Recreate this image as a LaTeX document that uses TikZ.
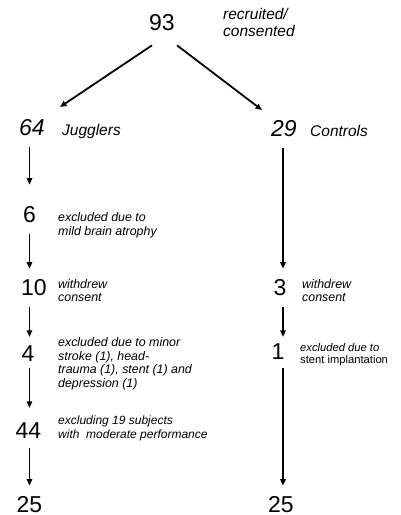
\documentclass[tikz,border=0pt]{standalone}
\usepackage{fontspec}
\setmainfont{Liberation Sans}
\usetikzlibrary{arrows.meta}

\begin{document}
\begin{tikzpicture}[x=1pt,y=-1pt,>={Triangle[length=6.5pt,width=5.5pt]},
  num/.style={inner sep=0pt,font=\fontsize{23}{23}\selectfont},
  lbl/.style={anchor=base west,inner sep=0pt,align=left,
    font=\fontsize{15.5}{17}\selectfont\itshape},
  note/.style={anchor=base west,inner sep=0pt,align=left,
    font=\fontsize{12.4}{13.6}\selectfont\itshape},
  flow/.style={->,line width=1.4pt,shorten <=11pt,shorten >=11pt}]
  \useasboundingbox (0,0) rectangle (400,515);
  % recruitment (multi-line notes sit on their last line)
  \node[num] (n93) at (162,23) {93};
  \node[lbl] (tRec) at (223,36) {recruited/\\consented};
  \coordinate (inJug) at (60,107);
  \coordinate (inCon) at (262,110);
  \draw[->,line width=1.8pt] ([shift={(-10,14)}]n93.south) -- (inJug);
  \draw[->,line width=1.8pt] ([shift={(15,14)}]n93.south) -- (inCon);
  % jugglers
  \coordinate (colJ) at (29.5,0);
  \node[num,font=\fontsize{23}{23}\selectfont\itshape] (n64) at (32,128) {64};
  \node[lbl] (tJug) at (62,135) {Jugglers};
  \node[num] (n6) at (29.5,215) {6};
  \node[note] (t6) at (58,235.5) {excluded due to\\mild brain atrophy};
  \node[num] (n10) at (34,288) {10};
  \node[note] (t10) at (58,301) {withdrew\\[-1pt]consent};
  \node[num] (n4) at (28,354) {4};
  \node[note] (t4) at (58,387.5) {excluded due to minor\\stroke (1), head-\\trauma (1), stent (1) and\\depression (1)};
  \node[num] (n44) at (28.5,431) {44};
  \node[note,font=\fontsize{12}{14}\selectfont\itshape] (t44) at (58,438)
    {excluding 19 subjects\\with~ moderate performance};
  \node[num] (nJ25) at (29.5,505) {25};
  \draw[flow,shorten >=22pt] (n64.south -| colJ) -- (n6.north -| colJ);
  \draw[flow] (n6.south -| colJ) -- (n10.north -| colJ);
  \draw[flow,shorten >=9pt] (n10.south -| colJ) -- (n4.north -| colJ);
  \draw[flow,shorten <=6pt,shorten >=15pt] (n4.south -| colJ) -- (n44.north -| colJ);
  \draw[flow,shorten <=9pt] (n44.south -| colJ) -- (nJ25.north -| colJ);
  % controls
  \coordinate (colC) at (283,0);
  \node[num,font=\fontsize{23}{23}\selectfont\itshape] (n29) at (284,129) {29};
  \node[lbl] (tCon) at (310,136) {Controls};
  \node[num] (n3) at (280,288) {3};
  \node[note] (t3) at (302,301) {withdrew\\[-1pt]consent};
  \node[num] (n1) at (278,352) {1};
  \node[note,font=\fontsize{11.2}{11.6}\selectfont] (t1) at (300,363.5)
    {\itshape excluded due to\\stent implantation};
  \node[num] (nC25) at (281,505) {25};
  \draw[flow] (n29.south -| colC) -- (n3.north -| colC);
  \draw[flow,shorten >=7pt] (n3.south -| colC) -- (n1.north -| colC);
  \draw[flow,shorten <=8pt] (n1.south -| colC) -- (nC25.north -| colC);
\end{tikzpicture}
\end{document}
